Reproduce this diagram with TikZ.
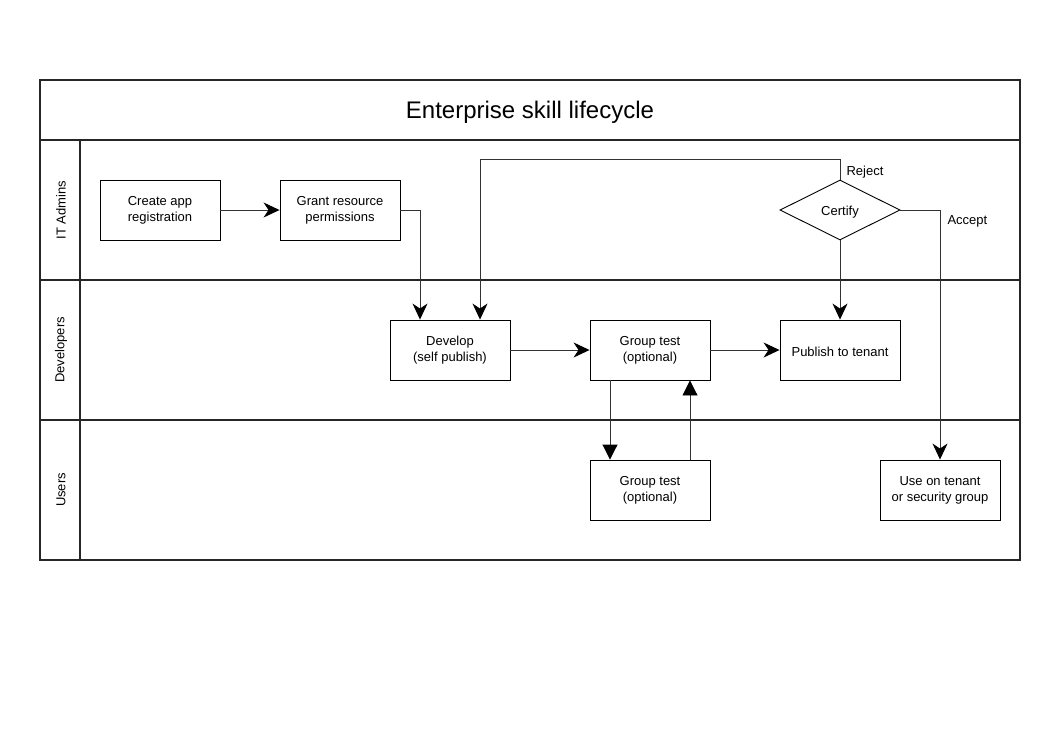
\documentclass[tikz,border=0pt]{standalone}
\usepackage{fontspec}
\setmainfont{Liberation Sans}
\usetikzlibrary{shapes.geometric,arrows.meta}
\begin{document}
\begin{tikzpicture}[x=1pt,y=-1pt,
  lbl/.style={font=\fontsize{13}{16}\selectfont},
  box/.style={draw, line width=0.9pt, minimum width=120pt, minimum height=60pt, inner sep=0pt, align=center, lbl, execute at begin node={\rule{0pt}{13.5pt}}},
  dia/.style={draw, line width=0.9pt, diamond, aspect=2, minimum width=120pt, minimum height=60pt, inner sep=0pt, lbl, execute at begin node={\rule{0pt}{13.5pt}}},
  lane/.style={draw, line width=1.1pt, black!85},
  conn/.style={draw, line width=0.9pt, black!80, -{Stealth[length=16pt,width=15pt,inset=5pt,fill=black,color=black]}},
  conntri/.style={draw, line width=0.9pt, black!80, -{Triangle[length=15pt,width=15pt,fill=black,color=black]}}
]
\useasboundingbox (0,0) rectangle (1060,740);
% pool
\draw[lane] (40,80) rectangle (1020,560);
\draw[lane] (40,140) -- (1020,140);
\draw[lane] (40,280) -- (1020,280);
\draw[lane] (40,420) -- (1020,420);
\draw[lane] (80,140) -- (80,560);
\node[font=\fontsize{24}{28}\selectfont] (title) at (530,112) {Enterprise skill lifecycle};
\node[lbl, rotate=90] (l1) at (61,210) {IT Admins};
\node[lbl, rotate=90] (l2) at (61,350) {Developers};
\node[lbl, rotate=90] (l3) at (61,490) {Users};
% nodes
\node[box] (create) at (160,210) {Create app\\registration};
\node[box] (grant) at (340,210) {Grant resource\\permissions};
\node[dia] (cert) at (840,210) {Certify};
\node[box] (dev) at (450,350) {Develop\\(self publish)};
\node[box] (gt) at (650,350) {Group test\\(optional)};
\node[box] (pub) at (840,350) {Publish to tenant};
\node[box] (gtu) at (650,490) {Group test\\(optional)};
\node[box] (use) at (940,490) {Use on tenant\\or security group};
% connectors
\path[conn] (create) -- (grant);
\path[conn] (grant.east) -| ([xshift=-30pt]dev.north);
\path[conn] (cert.north) -- ++(0,-20) -| ([xshift=30pt]dev.north);
\path[conn] (cert.south) -- (pub.north);
\path[conn] (cert.east) -| (use.north);
\path[conn] (dev) -- (gt);
\path[conn] (gt) -- (pub);
\path[conntri] ([xshift=-40pt]gt.south) -- ([xshift=-40pt]gtu.north);
\path[conntri] ([xshift=40pt]gtu.north) -- ([xshift=40pt]gt.south);
% labels
\node[lbl, anchor=west] (rej) at (843,172) {Reject};
\node[lbl, anchor=west] (acc) at (944,221) {Accept};
\end{tikzpicture}
\end{document}
